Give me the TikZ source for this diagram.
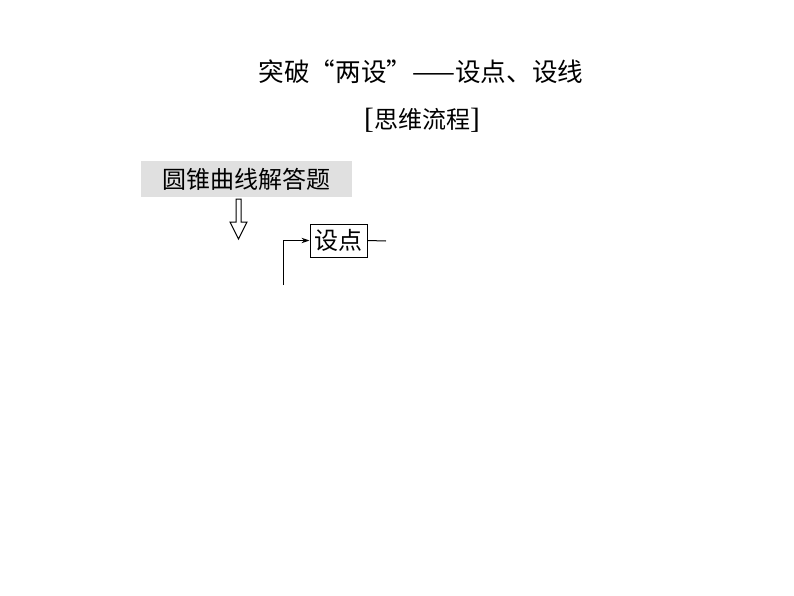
\documentclass[tikz,border=0pt]{standalone}
\usepackage{fontspec}
\setmainfont{Liberation Serif}
\newfontfamily\cjk{Noto Sans CJK SC}
\usetikzlibrary{arrows.meta}
\begin{document}
\begin{tikzpicture}[x=0.75pt,y=-0.75pt,
  txt/.style={font=\cjk\fontsize{18pt}{20pt}\selectfont, inner sep=0pt},
  graybox/.style={fill=black!12, draw=none, minimum width=211*0.75pt, minimum height=36*0.75pt, inner sep=0pt, font=\cjk\fontsize{18pt}{20pt}\selectfont},
  framebox/.style={draw=black, line width=0.75pt, minimum width=57*0.75pt, minimum height=33*0.75pt, inner sep=0pt, font=\cjk\fontsize{18pt}{20pt}\selectfont},
  conn/.style={line width=0.75pt, draw=black}]
\useasboundingbox (0,0) rectangle (794,596);
\fill[white] (0,0) rectangle (794,596);
\node[txt, font=\cjk\fontsize{19.2pt}{21pt}\selectfont] (title) at (421,72) {突破“两设”——设点、设线};
\node[txt] (sub) at (422,120) {{\fontsize{22pt}{22pt}\selectfont\rmfamily[}思维流程{\fontsize{22pt}{22pt}\selectfont\rmfamily]}};
\node[graybox] (q) at (246.5,179) {圆锥曲线解答题};
\draw[conn, fill=white] (236,199) -- (241,199) -- (241,222) -- (247,222) -- (238.5,239) -- (230,222) -- (236,222) -- cycle;
\node[framebox] (p) at (338.5,240.5) {设点};
\coordinate (pe) at (386,241);
\draw[conn] (p.east) -- (pe);
\coordinate (ls) at (283,285);
\draw[conn, -{Stealth[length=6pt,width=4pt]}] (ls) |- (p.west);
\end{tikzpicture}
\end{document}
